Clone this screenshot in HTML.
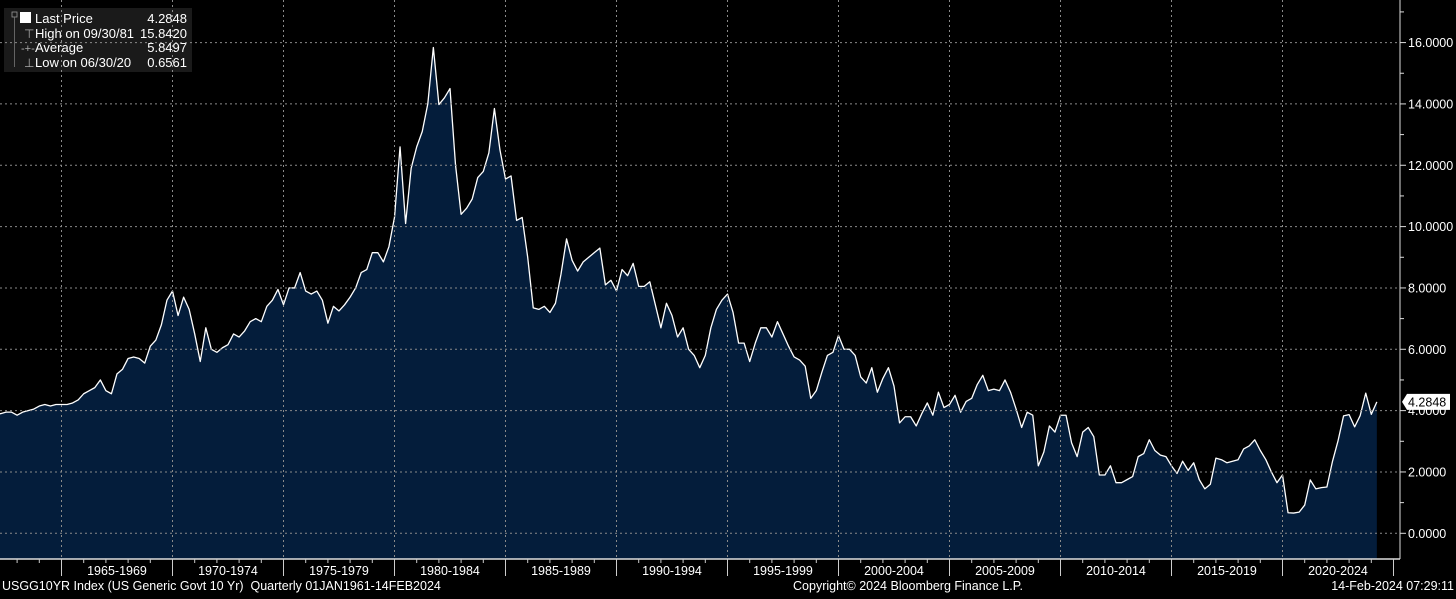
<!DOCTYPE html>
<html><head><meta charset="utf-8">
<style>
html,body{margin:0;padding:0;background:#000;}
body{width:1456px;height:594px;overflow:hidden;font-family:"Liberation Sans","DejaVu Sans",sans-serif;}
svg text{font-family:"Liberation Sans","DejaVu Sans",sans-serif;white-space:pre;}
</style></head>
<body>
<svg id="chart" width="1456" height="594" viewBox="0 0 1456 594" xmlns="http://www.w3.org/2000/svg">
<rect x="0" y="0" width="1456" height="594" fill="#000"/>
<g id="grid"></g>
<g id="series"></g>
<g id="axes"></g>
<g id="legend">
 <rect x="4" y="8" width="188" height="64" fill="#1a1a1a"/>
 <rect x="12" y="12" width="5" height="5" fill="none" stroke="#999" stroke-width="0.8"/>
 <line x1="14.5" y1="17" x2="14.5" y2="67" stroke="#777" stroke-width="0.8"/>
 <rect x="20" y="12" width="11" height="11" fill="#fff"/>
 <text x="35" y="23" fill="#fff" font-size="13">Last Price</text>
 <text x="187" y="23" fill="#fff" font-size="13" text-anchor="end">4.2848</text>
 <text x="24" y="38" fill="#aaa" font-size="12">⊤</text>
 <text x="35" y="38" fill="#fff" font-size="13">High on 09/30/81</text>
 <text x="187" y="38" fill="#fff" font-size="13" text-anchor="end">15.8420</text>
 <text x="21" y="52" fill="#aaa" font-size="11">-+-</text>
 <text x="35" y="52" fill="#fff" font-size="13">Average</text>
 <text x="187" y="52" fill="#fff" font-size="13" text-anchor="end">5.8497</text>
 <text x="24" y="67" fill="#aaa" font-size="12">⊥</text>
 <text x="35" y="67" fill="#fff" font-size="13">Low on 06/30/20</text>
 <text x="187" y="67" fill="#fff" font-size="13" text-anchor="end">0.6561</text>
</g>
<text x="2" y="590" fill="#fff" font-size="12.5">USGG10YR Index (US Generic Govt 10 Yr)  Quarterly 01JAN1961-14FEB2024</text>
<text x="908" y="590" fill="#fff" font-size="12.5" text-anchor="middle">Copyright© 2024 Bloomberg Finance L.P.</text>
<text x="1454" y="590" fill="#fff" font-size="12.5" text-anchor="end">14-Feb-2024 07:29:11</text>
</svg>
<script>
const startYear = 1961.25; // first quarter-end
const values = [
3.80,3.80,3.95,3.95, 3.90,3.95,3.95,3.85, 3.95,4.00,4.05,4.15, 4.20,4.15,4.20,4.20,
4.20,4.25,4.35,4.55, 4.65,4.75,5.00,4.65, 4.55,5.20,5.35,5.70, 5.75,5.70,5.55,6.10,
6.30,6.80,7.60,7.90, 7.10,7.70,7.30,6.50, 5.60,6.70,6.00,5.90, 6.05,6.15,6.50,6.40,
6.60,6.90,7.00,6.90, 7.40,7.60,7.95,7.45, 8.00,8.00,8.50,7.90, 7.80,7.90,7.60,6.85,
7.40,7.25,7.45,7.70, 8.00,8.50,8.60,9.15, 9.15,8.85,9.35,10.30, 12.60,10.10,11.90,12.60,
13.10,14.00,15.84,13.98, 14.20,14.50,12.00,10.40, 10.60,10.90,11.60,11.80, 12.40,13.85,12.50,11.55,
11.65,10.20,10.30,9.00, 7.35,7.30,7.40,7.20, 7.50,8.45,9.60,8.90, 8.55,8.85,9.00,9.15,
9.30,8.10,8.25,7.90, 8.60,8.40,8.80,8.05, 8.05,8.20,7.45,6.70, 7.50,7.10,6.40,6.70,
6.00,5.80,5.40,5.80, 6.70,7.30,7.60,7.80, 7.20,6.20,6.20,5.60, 6.20,6.70,6.70,6.40,
6.90,6.50,6.10,5.75, 5.65,5.45,4.40,4.65, 5.25,5.80,5.90,6.45, 6.00,6.00,5.80,5.10,
4.90,5.40,4.60,5.05, 5.40,4.80,3.60,3.80, 3.80,3.50,3.90,4.25, 3.85,4.60,4.10,4.20,
4.50,3.95,4.30,4.40, 4.85,5.15,4.65,4.70, 4.65,5.00,4.60,4.05, 3.45,3.95,3.85,2.20,
2.65,3.50,3.30,3.85, 3.85,2.95,2.50,3.30, 3.45,3.15,1.90,1.90, 2.20,1.65,1.65,1.75,
1.85,2.50,2.60,3.05, 2.70,2.55,2.50,2.20, 1.95,2.35,2.05,2.30, 1.75,1.45,1.60,2.45,
2.40,2.30,2.35,2.40, 2.75,2.85,3.05,2.70, 2.40,2.00,1.65,1.90, 0.67,0.66,0.69,0.92,
1.74,1.45,1.49,1.51, 2.34,3.01,3.83,3.87, 3.47,3.84,4.57,3.88, 4.2848
];
const yTicks = [0,2,4,6,8,10,12,14,16];
const yTickLabels = ["0.0000","2.0000","4.0000","6.0000","8.0000","10.0000","12.0000","14.0000","16.0000"];
const xPeriods = [1965,1970,1975,1980,1985,1990,1995,2000,2005,2010,2015,2020];
const xPeriodLabels = ["1965-1969","1970-1974","1975-1979","1980-1984","1985-1989","1990-1994","1995-1999","2000-2004","2005-2009","2010-2014","2015-2019","2020-2024"];
const lastLabel = "4.2848";

const NS="http://www.w3.org/2000/svg";
const plotR=1400, plotB=559;
function xScale(t){return 61.5+(t-1965)*22.2;}
function yScale(v){return 533.3-v*30.67;}
function mk(tag,attrs,parent){const e=document.createElementNS(NS,tag);for(const k in attrs)e.setAttribute(k,attrs[k]);parent.appendChild(e);return e;}

const grid=document.getElementById('grid'), series=document.getElementById('series'), axes=document.getElementById('axes');
yTicks.forEach((v,i)=>{
 const g=mk('line',{x1:0,x2:plotR,y1:yScale(v),y2:yScale(v),stroke:'#8a8a8a','stroke-width':1,'stroke-dasharray':'2,3'},grid);
 
 
});
xPeriods.forEach(p=>{
 const g=mk('line',{x1:xScale(p),x2:xScale(p),y1:0,y2:plotB,stroke:'#8a8a8a','stroke-width':1,'stroke-dasharray':'2,3'},grid);
 
 
});
const pts=values.map((v,i)=>[xScale(startYear+0.25*i),yScale(v)]);
let d='M'+pts[0][0]+','+plotB+' '+pts.map(p=>'L'+p[0].toFixed(2)+','+p[1].toFixed(2)).join(' ')+' L'+pts[pts.length-1][0]+','+plotB+' Z';
const area=mk('path',{d:d,fill:'#041d3b'},series);


const line=mk('path',{d:'M'+pts.map(p=>p[0].toFixed(2)+','+p[1].toFixed(2)).join(' L'),fill:'none',stroke:'#fff','stroke-width':1.3,'stroke-linejoin':'round'},series);


grid.parentNode.appendChild(grid);
mk('line',{x1:plotR,x2:plotR,y1:0,y2:plotB,stroke:'#ddd','stroke-width':1},axes);
for(let v=-1;v<=17;v++){
 const y=yScale(v); if(y<0||y>plotB)continue;
 mk('line',{x1:plotR,x2:plotR+(v%2===0?6:4),y1:y,y2:y,stroke:'#ddd','stroke-width':1},axes);
}
yTicks.forEach((v,i)=>{
 const t=mk('text',{x:1408,y:yScale(v)+4.5,fill:'#fff','font-size':12.5},axes);
 t.textContent=yTickLabels[i];
 
 
});
mk('line',{x1:0,x2:plotR,y1:plotB,y2:plotB,stroke:'#ddd','stroke-width':1.5},axes);
for(let yr=1962;yr<=2025;yr++){
 const x=xScale(yr); if(x<0||x>plotR)continue;
 const major=yr%5===0;
 mk('line',{x1:x,x2:x,y1:plotB,y2:plotB+(major?17:4),stroke:'#ccc','stroke-width':1},axes);
}
xPeriods.forEach((p,i)=>{
 const t=mk('text',{x:xScale(p)+55.5,y:plotB+16,fill:'#fff','font-size':12.5,'text-anchor':'middle'},axes);
 t.textContent=xPeriodLabels[i];
 
 
});
const ly=yScale(values[values.length-1]);
const tag=mk('path',{d:`M1402,${ly} L1407,${ly-8} L1450,${ly-8} L1450,${ly+8} L1407,${ly+8} Z`,fill:'#fff'},axes);


const tt=mk('text',{x:1408,y:ly+4.5,fill:'#000','font-size':12.5},axes);
tt.textContent=lastLabel;


</script>
</body></html>
